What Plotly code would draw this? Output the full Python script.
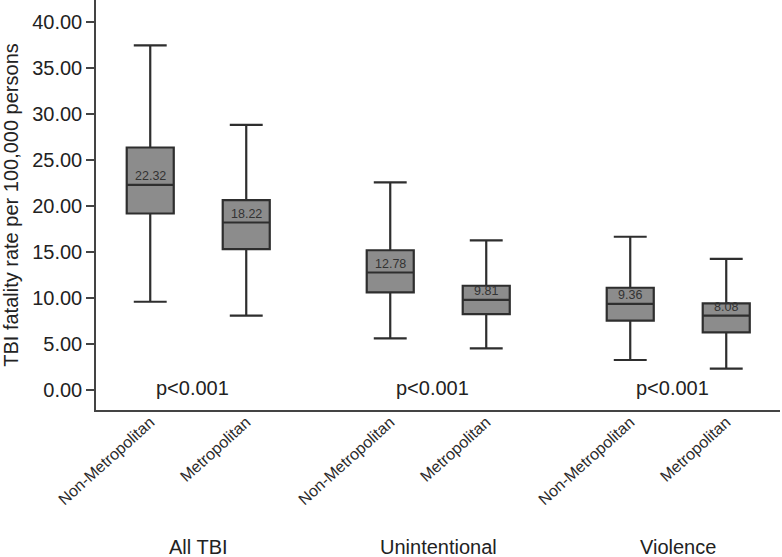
import plotly.graph_objects as go

# ---- data ----
positions = [0, 1, 2.5, 3.5, 5, 6]
categories = ["Non-Metropolitan", "Metropolitan"] * 3
groups = ["All TBI", "Unintentional", "Violence"]
p_labels = ["p<0.001", "p<0.001", "p<0.001"]
upper = [37.5, 28.85, 22.58, 16.27, 16.67, 14.27]
q3 = [26.38, 20.65, 15.2, 11.34, 11.12, 9.42]
median = [22.32, 18.22, 12.78, 9.81, 9.36, 8.08]
q1 = [19.2, 15.33, 10.62, 8.26, 7.54, 6.27]
lower = [9.6, 8.08, 5.62, 4.53, 3.26, 2.32]
y_ticks = [0, 5, 10, 15, 20, 25, 30, 35, 40]

FONT = "Liberation Sans, Arial"

fig = go.Figure()
fig.add_trace(go.Box(
    x=positions, q1=q1, median=median, q3=q3,
    lowerfence=lower, upperfence=upper,
    width=0.49, whiskerwidth=0.7,
    fillcolor="#8c8c8c",
    line=dict(color="#2e2e2e", width=2.2),
    boxpoints=False, showlegend=False, hoverinfo="skip",
))

# median labels
for xp, m in zip(positions, median):
    fig.add_annotation(x=xp, y=m, text=f"{m:.2f}", showarrow=False,
                       yanchor="bottom", yshift=0,
                       font=dict(size=12.5, color="#333333", family=FONT))

# group centers
centers = [(positions[2*i] + positions[2*i+1]) / 2 for i in range(3)]
for c, g, p in zip(centers, groups, p_labels):
    fig.add_annotation(x=c, y=0.2, text=p, showarrow=False, xshift=-6,
                       font=dict(size=20, color="#222222", family=FONT))
    fig.add_annotation(x=c, xref="x", y=-0.333, yref="paper", text=g,
                       showarrow=False, yanchor="middle",
                       font=dict(size=20, color="#222222", family=FONT))

fig.update_xaxes(
    range=[-0.565, 6.56], tickvals=positions, ticktext=categories,
    tickangle=-42, tickfont=dict(size=16, color="#2a2a2a", family=FONT),
    showline=True, linecolor="#444444", linewidth=1.5, showgrid=False,
    zeroline=False, ticks="", automargin=False, ticklabelstandoff=-5,
)
fig.update_yaxes(
    range=[-2.18, 42.43], tickvals=y_ticks, tickformat=".2f",
    ticks="outside", ticklen=8, tickcolor="#444444", tickwidth=1.5,
    tickfont=dict(size=20, color="#222222", family=FONT),
    showline=True, linecolor="#444444", linewidth=1.5, showgrid=False,
    zeroline=False, automargin=False,
    title=dict(text="TBI fatality rate per 100,000 persons", standoff=8,
               font=dict(size=20, color="#222222", family=FONT)),
)
fig.update_layout(
    width=782, height=557,
    margin=dict(l=96, r=2, t=0, b=147),
    plot_bgcolor="white", paper_bgcolor="white",
)
fig.write_html("out.html", config={"displayModeBar": False},
               post_script="document.body.style.margin='0';document.body.style.overflow='hidden';")
